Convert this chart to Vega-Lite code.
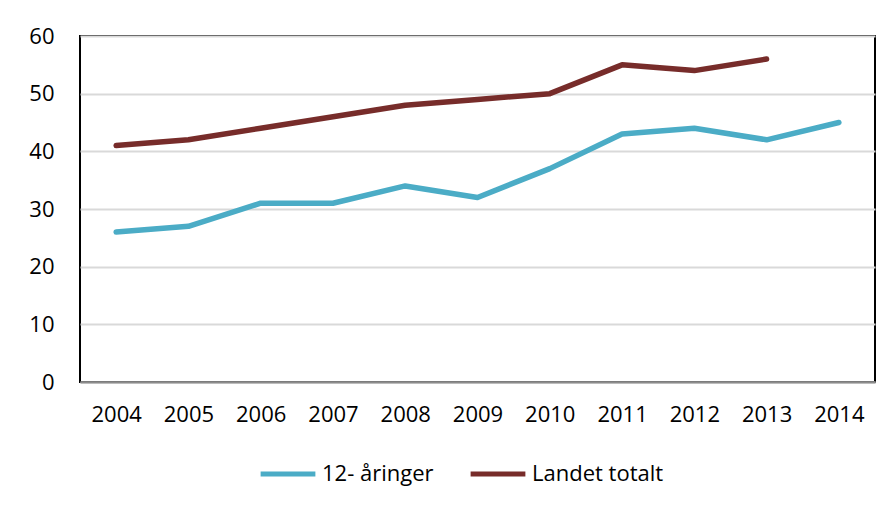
{
  "$schema": "https://vega.github.io/schema/vega-lite/v6.json",
  "width": 795,
  "height": 346,
  "autosize": {"type": "none"},
  "padding": {"left": 80, "top": 36, "right": 18, "bottom": 128},
  "background": "white",
  "data": {
    "values": [
      {"year": "2004", "series": "12- åringer", "value": 26},
      {"year": "2005", "series": "12- åringer", "value": 27},
      {"year": "2006", "series": "12- åringer", "value": 31},
      {"year": "2007", "series": "12- åringer", "value": 31},
      {"year": "2008", "series": "12- åringer", "value": 34},
      {"year": "2009", "series": "12- åringer", "value": 32},
      {"year": "2010", "series": "12- åringer", "value": 37},
      {"year": "2011", "series": "12- åringer", "value": 43},
      {"year": "2012", "series": "12- åringer", "value": 44},
      {"year": "2013", "series": "12- åringer", "value": 42},
      {"year": "2014", "series": "12- åringer", "value": 45},
      {"year": "2004", "series": "Landet totalt", "value": 41},
      {"year": "2005", "series": "Landet totalt", "value": 42},
      {"year": "2006", "series": "Landet totalt", "value": 44},
      {"year": "2007", "series": "Landet totalt", "value": 46},
      {"year": "2008", "series": "Landet totalt", "value": 48},
      {"year": "2009", "series": "Landet totalt", "value": 49},
      {"year": "2010", "series": "Landet totalt", "value": 50},
      {"year": "2011", "series": "Landet totalt", "value": 55},
      {"year": "2012", "series": "Landet totalt", "value": 54},
      {"year": "2013", "series": "Landet totalt", "value": 56}
    ]
  },
  "mark": {"type": "line", "strokeWidth": 5.5, "strokeCap": "round", "strokeJoin": "round"},
  "encoding": {
    "x": {
      "field": "year",
      "type": "ordinal",
      "scale": {"type": "point", "padding": 0.5},
      "axis": {
        "title": null,
        "labelAngle": 0,
        "ticks": false,
        "grid": false,
        "domainColor": "#8c8c8c",
        "domainWidth": 2,
        "labelPadding": 22,
        "labelFontSize": 22,
        "labelFont": "Open Sans",
        "labelColor": "#000"
      }
    },
    "y": {
      "field": "value",
      "type": "quantitative",
      "scale": {"domain": [0, 60], "nice": false},
      "axis": {
        "title": null,
        "values": [0, 10, 20, 30, 40, 50, 60],
        "ticks": false,
        "domain": false,
        "gridColor": "#d9d9d9",
        "gridWidth": 2,
        "labelPadding": 26,
        "labelFontSize": 22,
        "labelFont": "Open Sans",
        "labelColor": "#000"
      }
    },
    "color": {
      "field": "series",
      "type": "nominal",
      "scale": {"domain": ["12- åringer", "Landet totalt"], "range": ["#4BACC6", "#772C2A"]},
      "legend": {
        "title": null,
        "orient": "none",
        "legendX": 178,
        "legendY": 408,
        "direction": "horizontal",
        "symbolType": "stroke",
        "symbolStrokeWidth": 5,
        "symbolSize": 3000,
        "labelFontSize": 22,
        "labelFont": "Open Sans",
        "labelColor": "#000",
        "labelOffset": 4,
        "columnPadding": 26
      }
    }
  },
  "config": {
    "view": {"stroke": "#000", "strokeWidth": 2}
  }
}
